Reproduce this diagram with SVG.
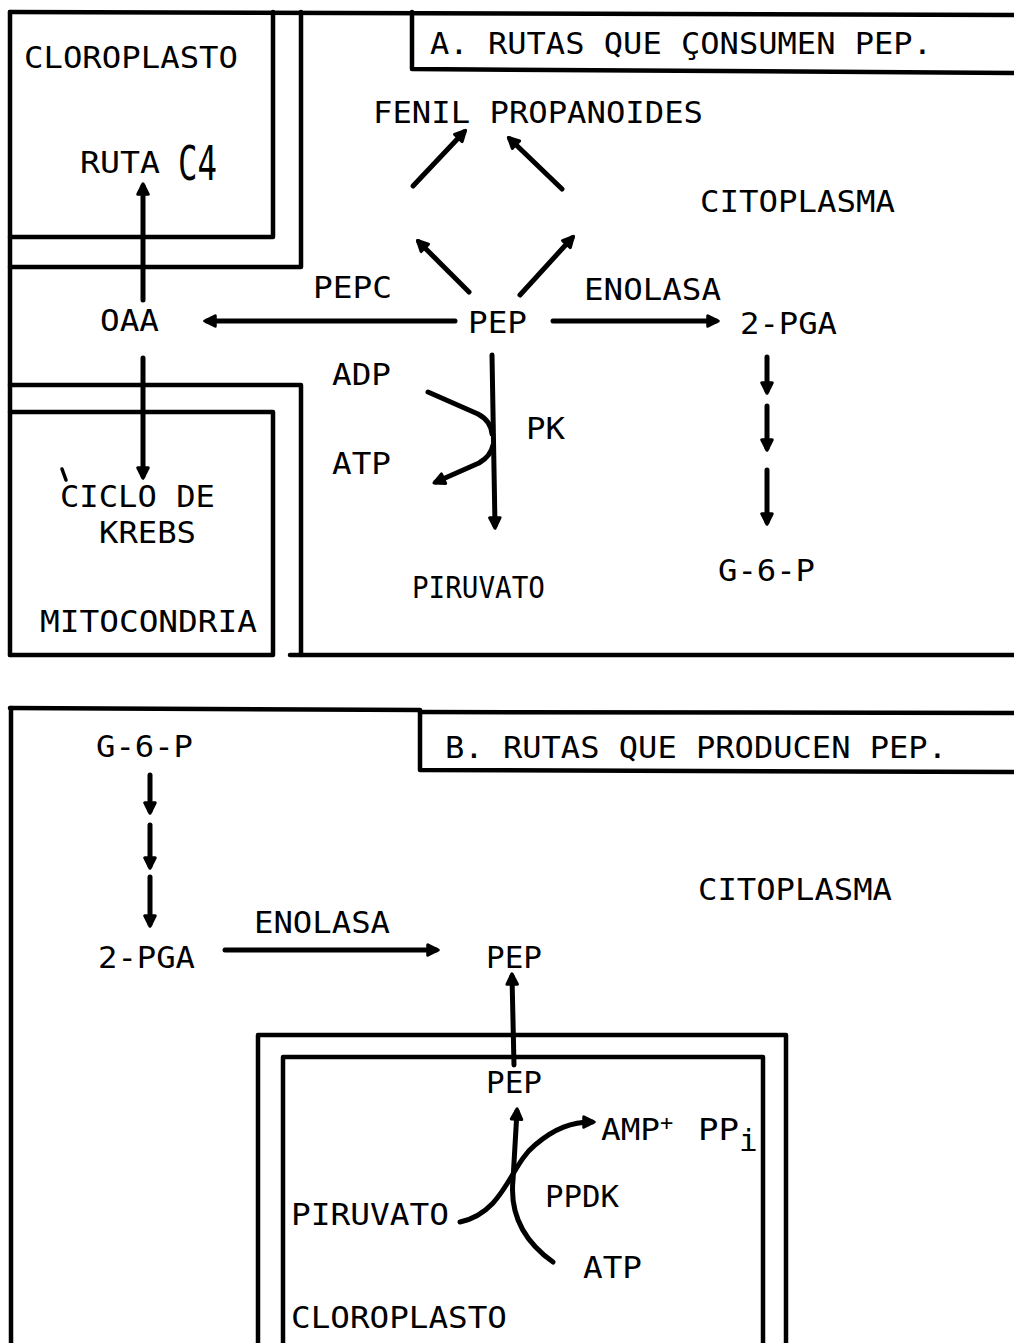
<svg xmlns="http://www.w3.org/2000/svg" width="1014" height="1343" viewBox="0 0 1014 1343">
<defs>
<style>
.t{font-family:"DejaVu Sans Mono","Liberation Mono",monospace;font-size:31px;fill:#000}
.b{fill:none;stroke:#000;stroke-width:4.5;stroke-linecap:round;stroke-linejoin:round}
.c{fill:none;stroke:#000;stroke-width:5;stroke-linecap:round;stroke-linejoin:round}
.c2{fill:none;stroke:#000;stroke-width:3.5;stroke-linecap:round;stroke-linejoin:round}
</style>
<marker id="ah" viewBox="0 0 10 10" refX="7" refY="5" markerWidth="15" markerHeight="15" markerUnits="userSpaceOnUse" orient="auto">
<path d="M1.5,1.5 L8.5,5 L1.5,8.5 Z" fill="#000" stroke="#000" stroke-width="2" stroke-linejoin="round"/>
</marker>
</defs>
<rect width="1014" height="1343" fill="#fff"/>

<g id="panelA-frame">
<path class="b" d="M10,12 L1014,15"/>
<path class="b" d="M412,12 L412,69 L1014,73"/>
<path class="b" d="M10,12 L10,655"/>
<path class="b" d="M290,655 L1014,655"/>
</g>
<g id="cloroplastoA">
<path class="b" d="M273,12 L273,237 L10,237"/>
<path class="b" d="M301,12 L301,267 L10,267"/>
<text class="t" x="24" y="68" textLength="214" lengthAdjust="spacingAndGlyphs">CLOROPLASTO</text>
</g>
<g id="mitocondria">
<path class="b" d="M10,385 L301,385 L301,655"/>
<path class="b" d="M10,412 L273,412 L273,655 L10,655"/>
<text class="t" x="40" y="632" textLength="217" lengthAdjust="spacingAndGlyphs">MITOCONDRIA</text>
</g>

<g id="titleA"><text class="t" x="430" y="54" textLength="502" lengthAdjust="spacingAndGlyphs">A. RUTAS QUE ÇONSUMEN PEP.</text></g>
<g id="rutaC4"><text class="t" x="80" y="173" textLength="80" lengthAdjust="spacingAndGlyphs">RUTA</text><text class="t" x="178" y="180" style="font-size:48px" textLength="39" lengthAdjust="spacingAndGlyphs">C4</text></g>
<g id="fenil"><text class="t" x="373" y="123" textLength="330" lengthAdjust="spacingAndGlyphs">FENIL PROPANOIDES</text></g>
<g id="citoA"><text class="t" x="700" y="212" textLength="195" lengthAdjust="spacingAndGlyphs">CITOPLASMA</text></g>
<g id="pepcA"><text class="t" x="313" y="298" textLength="79" lengthAdjust="spacingAndGlyphs">PEPC</text></g>
<g id="enolasaA"><text class="t" x="584" y="300" textLength="137" lengthAdjust="spacingAndGlyphs">ENOLASA</text></g>
<g id="oaa"><text class="t" x="100" y="331" textLength="59" lengthAdjust="spacingAndGlyphs">OAA</text></g>
<g id="pepA"><text class="t" x="468" y="333" textLength="59" lengthAdjust="spacingAndGlyphs">PEP</text></g>
<g id="pgaA"><text class="t" x="740" y="334" textLength="97" lengthAdjust="spacingAndGlyphs">2-PGA</text></g>
<g id="adpA"><text class="t" x="332" y="385" textLength="59" lengthAdjust="spacingAndGlyphs">ADP</text></g>
<g id="atpA"><text class="t" x="332" y="474" textLength="59" lengthAdjust="spacingAndGlyphs">ATP</text></g>
<g id="pk"><text class="t" x="526" y="439" textLength="39" lengthAdjust="spacingAndGlyphs">PK</text></g>
<g id="piruvatoA"><text class="t" x="412" y="598" textLength="133" lengthAdjust="spacingAndGlyphs">PIRUVATO</text></g>
<g id="g6pA"><text class="t" x="718" y="581" textLength="97" lengthAdjust="spacingAndGlyphs">G-6-P</text></g>
<g id="krebs">
<text class="t" x="60" y="507" textLength="155" lengthAdjust="spacingAndGlyphs">CICLO DE</text>
<text class="t" x="99" y="543" textLength="97" lengthAdjust="spacingAndGlyphs">KREBS</text>
<path class="c2" d="M62,469 L66,480"/>
</g>

<g id="panelB-frame">
<path class="b" d="M10,708 L420,710 L420,770 L1014,772"/>
<path class="b" d="M420,712 L1014,713"/>
<path class="b" d="M11,708 L11,1343"/>
</g>
<g id="cloroplastoB">
<path class="b" d="M258,1343 L258,1035 L786,1035 L786,1343"/>
<path class="b" d="M283,1343 L283,1057 L763,1057 L763,1343"/>
<text class="t" x="291" y="1328" textLength="216" lengthAdjust="spacingAndGlyphs">CLOROPLASTO</text>
</g>
<g id="titleB"><text class="t" x="445" y="758" textLength="502" lengthAdjust="spacingAndGlyphs">B. RUTAS QUE PRODUCEN PEP.</text></g>
<g id="g6pB"><text class="t" x="96" y="757" textLength="97" lengthAdjust="spacingAndGlyphs">G-6-P</text></g>
<g id="pgaB"><text class="t" x="98" y="968" textLength="97" lengthAdjust="spacingAndGlyphs">2-PGA</text></g>
<g id="enolasaB"><text class="t" x="254" y="933" textLength="136" lengthAdjust="spacingAndGlyphs">ENOLASA</text></g>
<g id="citoB"><text class="t" x="698" y="900" textLength="194" lengthAdjust="spacingAndGlyphs">CITOPLASMA</text></g>
<g id="pepB"><text class="t" x="486" y="968" textLength="56" lengthAdjust="spacingAndGlyphs">PEP</text></g>
<g id="pepB2"><text class="t" x="486" y="1093" textLength="56" lengthAdjust="spacingAndGlyphs">PEP</text></g>
<g id="ampppi"><text class="t" x="601" y="1140"><tspan textLength="59" lengthAdjust="spacingAndGlyphs">AMP</tspan><tspan style="font-size:22px" dy="-10">+</tspan><tspan x="698" dy="10" textLength="41" lengthAdjust="spacingAndGlyphs">PP</tspan><tspan dy="11">i</tspan></text></g>
<g id="ppdk"><text class="t" x="545" y="1207" textLength="74" lengthAdjust="spacingAndGlyphs">PPDK</text></g>
<g id="piruvatoB"><text class="t" x="291" y="1225" textLength="158" lengthAdjust="spacingAndGlyphs">PIRUVATO</text></g>
<g id="atpB"><text class="t" x="583" y="1278" textLength="59" lengthAdjust="spacingAndGlyphs">ATP</text></g>

<g id="connectors">
<path class="c" d="M143,300 L143,186" marker-end="url(#ah)"/>
<path class="c" d="M143,358 L143,476" marker-end="url(#ah)"/>
<path class="c" d="M455,321 L207,321" marker-end="url(#ah)"/>
<path class="c" d="M553,321 L716,321" marker-end="url(#ah)"/>
<path class="c" d="M469,292 L419,242" marker-end="url(#ah)"/>
<path class="c" d="M520,295 L572,238" marker-end="url(#ah)"/>
<path class="c" d="M413,186 L464,132" marker-end="url(#ah)"/>
<path class="c" d="M562,189 L510,139" marker-end="url(#ah)"/>
<path class="c" d="M492,355 L495,526" marker-end="url(#ah)"/>
<path class="c" d="M428,392 L478,414 Q491,421 492,434"/>
<path class="c" d="M493,445 Q491,456 479,463 L436,482" marker-end="url(#ah)"/>
<path class="c" d="M767,357 L767,391" marker-end="url(#ah)"/>
<path class="c" d="M767,406 L767,448" marker-end="url(#ah)"/>
<path class="c" d="M767,470 L767,522" marker-end="url(#ah)"/>
<path class="c" d="M150,775 L150,811" marker-end="url(#ah)"/>
<path class="c" d="M150,825 L150,866" marker-end="url(#ah)"/>
<path class="c" d="M150,877 L150,924" marker-end="url(#ah)"/>
<path class="c" d="M225,950 L436,950" marker-end="url(#ah)"/>
<path class="c" d="M514,1065 L512,976" marker-end="url(#ah)"/>
<path class="c" d="M553,1262 Q508,1230 513,1180 L517,1111" marker-end="url(#ah)"/>
<path class="c" d="M460,1222 C505,1212 510,1165 535,1145 C555,1128 572,1122 592,1122" marker-end="url(#ah)"/>
</g>
</svg>
